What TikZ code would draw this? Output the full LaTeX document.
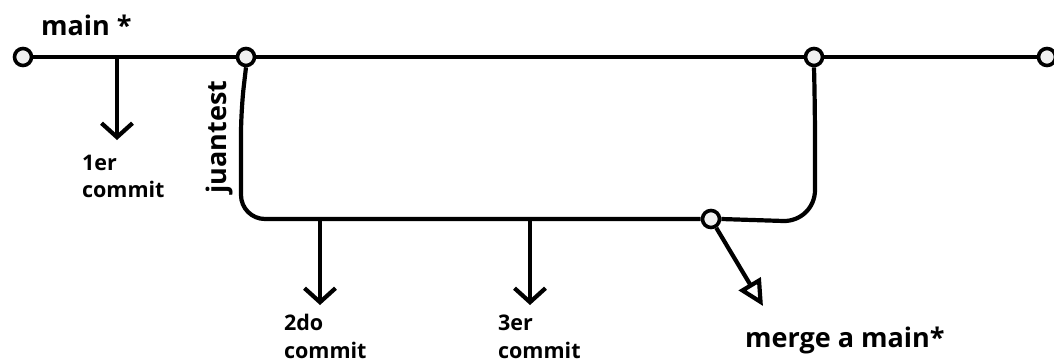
\documentclass[tikz,border=0pt]{standalone}
\usepackage{fontspec}
\setmainfont{Open Sans}
\usetikzlibrary{arrows.meta}
\begin{document}
\begin{tikzpicture}[x=1pt,y=-1pt, line width=4.2pt,
  commitpt/.style={circle, draw, fill=gray!12, line width=3.6pt, minimum size=17pt, inner sep=0pt},
  lbl/.style={font=\bfseries\fontsize{21.5}{25}\selectfont, anchor=base west, inner sep=0pt},
  big/.style={font=\bfseries\fontsize{27}{32}\selectfont, anchor=base west, inner sep=0pt},
  commitarrow/.style={-{Straight Barb[length=14pt,width=31pt]}},
  mergearrow/.style={-{Triangle[open,length=26pt,width=25pt]}}
  ]
\useasboundingbox (0,0) rectangle (1054,362);
% commit points
\node[commitpt] (m0) at (23,57) {};
\node[commitpt] (m1) at (246,57) {};
\node[commitpt] (m2) at (814,57) {};
\node[commitpt] (m3) at (1047,57) {};
\node[commitpt] (b1) at (711,219) {};
% arrow coordinates
\coordinate (a1) at (117,57);
\coordinate (a1e) at (117,140);
\coordinate (a2) at (320,219);
\coordinate (a2e) at (320,305);
\coordinate (a3) at (530,219);
\coordinate (a3e) at (530,305);
\coordinate (mt) at (763,306);
% main line
\draw (m0) -- (m1) -- (m2) -- (m3);
% branch
\draw[rounded corners=24pt] (m1.south) -- (241,110) -- (241,219) -- (b1.west);
\draw[rounded corners=32pt] (b1.east) -- (815,222) -- (815,110) -- (m2.south);
% commit arrows
\draw[commitarrow] (a1) -- (a1e);
\draw[commitarrow] (a2) -- (a2e);
\draw[commitarrow] (a3) -- (a3e);
\draw[mergearrow] (b1) -- (mt);
% labels
\node[big] (tmain) at (39,35) {main *};
\node[lbl] (t1a) at (80,170) {1er};
\node[lbl] (t1b) at (80,197) {commit};
\node[lbl] (t2a) at (282,330) {2do};
\node[lbl] (t2b) at (282,358) {commit};
\node[lbl] (t3a) at (496,330) {3er};
\node[lbl] (t3b) at (496,358) {commit};
\node[big] (tmerge) at (743,347) {merge a main*};
\node[big, rotate=90, anchor=center] (tjuan) at (219,137) {juantest};
\end{tikzpicture}
\end{document}
